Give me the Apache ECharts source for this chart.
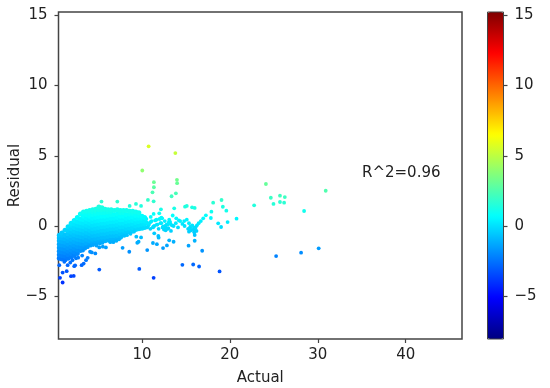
<!DOCTYPE html>
<html><head><meta charset="utf-8">
<script src="https://cdn.jsdelivr.net/npm/echarts@6/dist/echarts.min.js"></script>
<style>html,body{margin:0;padding:0;background:#fff}#c{width:550px;height:388px}</style>
</head><body><div id="c"></div>
<script>
const xTicks = [10, 20, 30, 40];
const yTicks = [-5, 0, 5, 10, 15];
const jetColors = ['#00007f','#0000ff','#007fff','#00ffff','#7fff7f','#ffff00','#ff7f00','#ff0000','#7f0000'];

// Dense cloud: one actual value per column, with the residuals read in that column
const cloudActual = [0.6,0.9,1.25,1.6,1.95,2.3,2.65,3,3.35,3.7,4.05,4.4,4.75,5.1,5.45,5.8,6.15,6.5,6.85,7.2,7.55,7.9,8.25,8.6,8.95,9.3,9.65,10,10.3];
const cloudResidual = [
 [-2.3,-2.05,-1.8,-1.55,-1.3,-1.05,-0.85,-0.65],
 [-2.35,-2.1,-1.85,-1.6,-1.35,-1.1,-0.85,-0.65,-0.5],
 [-2.4,-2.15,-1.9,-1.65,-1.4,-1.15,-0.9,-0.65,-0.3],
 [-2.3,-2.05,-1.8,-1.55,-1.3,-1.05,-0.8,-0.55,-0.3,-0.05],
 [-2.2,-1.95,-1.7,-1.45,-1.2,-0.95,-0.7,-0.45,-0.2,0.05,0.2],
 [-2.1,-1.85,-1.6,-1.35,-1.1,-0.85,-0.6,-0.35,-0.1,0.15,0.4],
 [-1.95,-1.7,-1.45,-1.2,-0.95,-0.7,-0.45,-0.2,0.05,0.3,0.6],
 [-1.75,-1.5,-1.25,-1,-0.75,-0.5,-0.25,0,0.25,0.5,0.85],
 [-1.55,-1.3,-1.05,-0.8,-0.55,-0.3,-0.05,0.2,0.45,0.7,1],
 [-1.45,-1.2,-0.95,-0.7,-0.45,-0.2,0.05,0.3,0.55,0.8,1.05],
 [-1.3,-1.05,-0.8,-0.55,-0.3,-0.05,0.2,0.45,0.7,0.9,1.1],
 [-1.2,-0.95,-0.7,-0.45,-0.2,0.05,0.3,0.55,0.8,1,1.15],
 [-1.15,-0.9,-0.65,-0.4,-0.15,0.1,0.35,0.6,0.85,1.05,1.2],
 [-1.1,-0.85,-0.6,-0.35,-0.1,0.15,0.4,0.65,0.9,1.15,1.35],
 [-1.05,-0.8,-0.55,-0.3,-0.05,0.2,0.45,0.7,0.95,1.15,1.3],
 [-1.05,-0.8,-0.55,-0.3,-0.05,0.2,0.45,0.7,0.95,1.2],
 [-1,-0.75,-0.5,-0.25,0,0.25,0.5,0.75,1,1.15],
 [-0.95,-0.7,-0.45,-0.2,0.05,0.3,0.55,0.8,1,1.15],
 [-0.95,-0.7,-0.45,-0.2,0.05,0.3,0.55,0.8,1.1],
 [-0.9,-0.65,-0.4,-0.15,0.1,0.35,0.6,0.85,1.15],
 [-0.8,-0.55,-0.3,-0.05,0.2,0.45,0.7,0.95,1.1],
 [-0.55,-0.3,-0.05,0.2,0.45,0.7,0.95,1.1],
 [-0.45,-0.2,0.05,0.3,0.55,0.8,1.1],
 [-0.4,-0.15,0.1,0.35,0.6,0.85,1.05],
 [-0.35,-0.1,0.15,0.4,0.65,0.9,1.05],
 [-0.25,0,0.25,0.5,0.75,1],
 [-0.2,0.05,0.3,0.55,0.75,0.95],
 [-0.15,0.1,0.35,0.55,0.7],
 [-0.1,0.15,0.35,0.6]
];

// Scattered points, read one by one
const sparseActual = [10.76,13.8,10.04,11.36,11.36,11.2,13.98,14,13.86,13.37,10.68,11.33,5.4,7.2,9.32,8.6,9.9,12.16,11.97,11.33,13.67,14.9,15.1,15.7,16,18.1,19.05,19.2,19.6,17.9,17.27,16.97,17.84,18.67,19,19.74,20.76,24.1,24.66,24.96,25.7,26.25,25.7,26.17,22.76,30.9,28.44,
 5.15,9.7,11.33,14.6,15.83,16.5,18.83,2.42,7.8,8.56,10.6,12.4,12.84,13.1,13.6,11.25,11.7,9.47,9.62,15.3,16.85,16,16,9.36,9.9,11.4,11.86,11.9,25.26,28.1,30.1,
 0.6,1.17,1.55,0.98,1.44,0.68,0.98,1.93,2.24,2.3,2.4,2.1,2.5,3.14,3.37,3.64,3.83,4.3,4.7,4.1,5.15,5.9,5.55,4.85,3.2,2.75,1.85,
 3.3,3.55,3.85,4.15,4.45,4.8,5.2,5.5,6.4,6.75,7.1,7.4,7.7,8,8.3,8.7,9.1,
 10.5,10.75,11,11.25,11.5,11.75,12,12.2,12.4,12.6,12.8,13,13.2,13.4,
 10.6,10.85,11.1,11.4,11.65,11.9,12.3,12.5,12.7,12.9,13.1,13.3,
 10.55,10.95,11.3,11.7,12.1,12.35,12.65,12.95,13.25,12.45,12.75,13.05,
 13.6,13.85,14.1,14.35,14.6,14.85,15.1,15.35,
 15.25,15.5,15.75,16,16.25,15.35,15.6,15.85,16.1,15.45,15.7,15.95,16.2,16.45,16.7,
 14.2,14.8,13.9,11,12.2,13.5];
const sparseResidual = [5.67,5.19,3.95,3.12,2.76,2.4,3.29,3.05,2.33,2.12,1.86,1.76,1.74,1.74,1.57,1.43,1.43,1.19,0.9,0.86,1.26,1.38,1.43,1.33,1.29,1.66,1.85,1.37,1.09,1.02,0.76,0.55,0.57,0.19,-0.07,0.28,0.52,2.99,2.01,1.57,2.16,2.06,1.71,1.66,1.47,2.51,1.07,
 -3.1,-3.05,-3.69,-2.76,-2.74,-2.88,-3.23,-8.07,-1.55,-1.83,-1.71,-1.57,-1.38,-1.02,-1.12,-1.21,-1.29,-1.19,-1.12,-1.4,-1.76,-1.05,-0.64,-0.76,-0.81,-0.52,-0.71,-0.83,-2.14,-1.9,-1.59,
 -2.79,-2.55,-2.79,-3.31,-3.21,-3.69,-4.02,-3.57,-3.55,-2.86,-2.8,-2.43,-2.3,-2.79,-2.67,-2.43,-2.26,-1.88,-1.95,-1.83,-1.52,-1.52,-1.47,-1.4,-2.1,-2.25,-2.6,
 -1.75,-1.6,-1.5,-1.4,-1.35,-1.3,-1.25,-1.2,-1.15,-1.15,-1.05,-0.95,-0.75,-0.7,-0.65,-0.55,-0.4,
 0.5,0.05,0.3,-0.1,0.4,0.1,0.5,0.2,-0.05,0.35,0.1,-0.15,0.3,0.05,
 -0.1,0.2,0.35,0.0,0.45,-0.2,0.55,-0.25,-0.3,0.1,0.45,-0.35,
 0.25,-0.2,-0.05,0.1,0.2,-0.1,0.0,-0.2,0.15,-0.05,-0.15,0.25,
 0.0,0.2,-0.1,0.35,0.15,0.0,0.45,0.2,
 -0.2,-0.05,0.0,-0.15,0.05,-0.4,-0.3,-0.25,-0.1,-0.15,0.05,-0.45,-0.35,0.2,0.35,
 0.4,0.35,0.55,0.65,0.6,0.75];

const cloudPoints = [];
cloudActual.forEach((a, i) => cloudResidual[i].forEach(r => cloudPoints.push([a, r])));
const sparsePoints = sparseActual.map((a, i) => [a, sparseResidual[i]]);

const font = '"DejaVu Sans"';
const ink = '#222';
const frame = '#444';
const tickLabel = v => String(v).replace('-', '\u2212');
const tickStyle = {show: true, length: 4, lineStyle: {color: frame, width: 1.2}};
const labelStyle = {show: true, color: ink, fontFamily: font, fontSize: 15, margin: 11, formatter: tickLabel};
const chart = echarts.init(document.getElementById('c'));
chart.setOption({
  animation: false,
  backgroundColor: '#fff',
  grid: [
    {left: 58.5, top: 12, width: 403.5, height: 327, show: true, borderColor: frame, borderWidth: 1.5, backgroundColor: 'transparent', outerBoundsMode: 'none'},
    {left: 487.5, top: 12, width: 16, height: 327, show: false, outerBoundsMode: 'none'}
  ],
  xAxis: [
    {gridIndex: 0, type: 'value', min: 0.51, max: 46.4, splitLine: {show: false},
     axisLine: {show: false, onZero: false},
     axisTick: {...tickStyle, customValues: xTicks},
     axisLabel: {...labelStyle, margin: 9, customValues: xTicks},
     name: 'Actual', nameLocation: 'middle', nameGap: 32, nameMoveOverlap: false, nameTextStyle: {color: ink, fontFamily: font, fontSize: 15}},
    {gridIndex: 1, type: 'value', min: 0, max: 1, show: false}
  ],
  yAxis: [
    {gridIndex: 0, type: 'value', min: -8.04, max: 15.23, splitLine: {show: false},
     axisLine: {show: false, onZero: false},
     axisTick: {...tickStyle, customValues: yTicks},
     axisLabel: {...labelStyle, customValues: yTicks},
     name: 'Residual', nameLocation: 'middle', nameGap: 36, nameMoveOverlap: false, nameTextStyle: {color: ink, fontFamily: font, fontSize: 15}},
    {gridIndex: 1, type: 'value', position: 'right', min: -8.04, max: 15.23, splitLine: {show: false},
     axisLine: {show: false, onZero: false},
     axisTick: {...tickStyle, customValues: yTicks},
     axisLabel: {...labelStyle, customValues: yTicks}}
  ],
  visualMap: {
    type: 'continuous', seriesIndex: [0, 1], dimension: 1, min: -8.04, max: 15.23,
    left: 487.5, top: 12, itemWidth: 16, itemHeight: 327, padding: 0,
    calculable: false, realtime: false, hoverLink: false, text: null, showLabel: false,
    inRange: {color: jetColors}
  },
  series: [
    {type: 'scatter', xAxisIndex: 0, yAxisIndex: 0, data: cloudPoints, symbolSize: 5, itemStyle: {opacity: 1}, silent: true, clip: true},
    {type: 'scatter', xAxisIndex: 0, yAxisIndex: 0, data: sparsePoints, symbolSize: 3.8, itemStyle: {opacity: 1}, silent: true, clip: true}
  ],
  graphic: [
    {type: 'text', left: 362, top: 166, z: 10, style: {text: 'R^2=0.96', fill: ink, font: '15px "DejaVu Sans"'}},
    {type: 'rect', z: 10, shape: {x: 487.5, y: 12, width: 16, height: 327}, style: {fill: 'none', stroke: frame, lineWidth: 1}}
  ]
});
</script></body></html>
